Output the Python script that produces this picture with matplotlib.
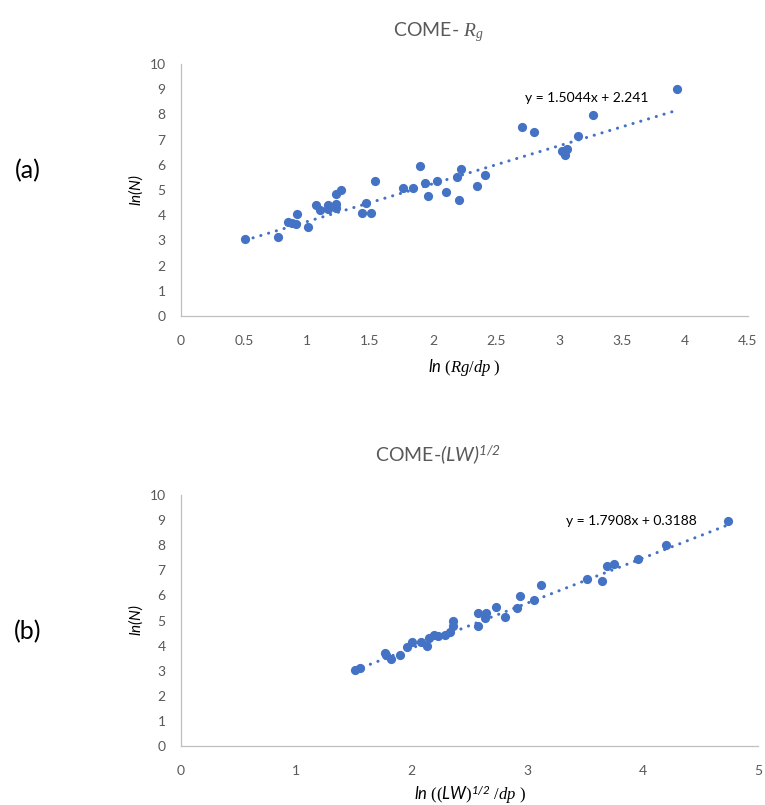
import matplotlib
matplotlib.use("Agg")
import matplotlib.pyplot as plt
import numpy as np

plt.rcParams['font.family'] = ['Lato', 'DejaVu Sans']
plt.rcParams['mathtext.fontset'] = 'custom'
plt.rcParams['mathtext.rm'] = 'Liberation Serif'
plt.rcParams['mathtext.it'] = 'Liberation Serif:italic'
plt.rcParams['mathtext.sf'] = 'Lato:italic'

# panel (a): ln(Rg/dp) vs ln(N)
rg_x = [0.51, 0.77, 0.85, 0.88, 0.91, 0.92, 1.01, 1.07, 1.10, 1.17, 1.17, 1.23, 1.23,
        1.27, 1.23, 1.44, 1.47, 1.51, 1.54, 1.76, 1.84, 1.90, 1.94, 1.96, 2.03, 2.10,
        2.19, 2.22, 2.21, 2.35, 2.41, 2.71, 2.80, 3.02, 3.05, 3.06, 3.04, 3.15, 3.27, 3.94]
rg_y = [3.07, 3.15, 3.73, 3.70, 3.66, 4.03, 3.52, 4.40, 4.19, 4.39, 4.26, 4.44, 4.85,
        5.01, 4.30, 4.10, 4.48, 4.10, 5.36, 5.06, 5.06, 5.95, 5.28, 4.77, 5.36, 4.93,
        5.52, 5.82, 4.62, 5.14, 5.59, 7.51, 7.30, 6.56, 6.40, 6.61, 6.50, 7.14, 7.96, 9.02]
rg_fit = (1.5044, 2.241)

# panel (b): ln((LW)^1/2/dp) vs ln(N)
lw_x = [1.51, 1.55, 1.77, 1.78, 1.82, 1.90, 1.96, 2.00, 2.08, 2.13, 2.15, 2.19, 2.23,
        2.29, 2.33, 2.36, 2.36, 2.57, 2.57, 2.63, 2.64, 2.73, 2.81, 2.91, 2.94, 3.06,
        3.12, 3.52, 3.65, 3.69, 3.75, 3.96, 4.20, 4.74]
lw_y = [3.03, 3.12, 3.72, 3.63, 3.45, 3.64, 3.94, 4.16, 4.16, 3.99, 4.32, 4.44, 4.39,
        4.43, 4.55, 4.77, 4.99, 5.29, 4.79, 5.09, 5.29, 5.53, 5.14, 5.51, 5.97, 5.81,
        6.41, 6.65, 6.56, 7.18, 7.24, 7.47, 7.99, 8.97]
lw_fit = (1.7908, 0.3188)

blue = '#4472C4'
grey = '#595959'
axis_grey = '#bfbfbf'

fig = plt.figure(figsize=(7.65, 8.05), dpi=100)
W, H = 765, 805


def make_ax(left, right, top, bottom):
    return fig.add_axes([left / W, 1 - bottom / H, (right - left) / W, (bottom - top) / H])


def style(ax, xmax, xticks, xticklabels):
    ax.set_xlim(0, xmax)
    ax.set_ylim(0, 10)
    ax.set_xticks(xticks)
    ax.set_xticklabels(xticklabels)
    ax.set_yticks(range(0, 11))
    for s in ['top', 'right']:
        ax.spines[s].set_visible(False)
    for s in ['left', 'bottom']:
        ax.spines[s].set_color(axis_grey)
        ax.spines[s].set_linewidth(0.9)
    ax.tick_params(length=0, colors=grey, labelsize=10, pad=14)
    ax.tick_params(axis='y', pad=11)


def draw(ax, xs, ys, fit, eq_pos):
    ax.scatter(xs, ys, s=44, color=blue, zorder=3, linewidths=0)
    xl = np.array([min(xs), max(xs)])
    ax.plot(xl, fit[0] * xl + fit[1], color=blue, lw=2.2,
            linestyle=(0, (0.05, 2.6)), dash_capstyle='round', zorder=2)
    ax.text(eq_pos[0], eq_pos[1], 'y = %sx + %s' % (fit[0], fit[1]),
            fontsize=10, color='black', ha='center', va='center')


ax1 = make_ax(181, 748, 64, 316)
style(ax1, 4.5, np.arange(0, 4.6, 0.5), ['0', '0.5', '1', '1.5', '2', '2.5', '3', '3.5', '4', '4.5'])
draw(ax1, rg_x, rg_y, rg_fit, (3.22, 8.66))
ax1.set_title(r'COME- $R_g$', color=grey, fontsize=14, pad=20, x=0.453)
ax1.set_ylabel(r'$\mathsf{ln(N)}$', color='black', fontsize=11, labelpad=3)
ax1.set_xlabel(r'$\mathsf{ln}\ (Rg/dp\ )$', color='black', fontsize=12, labelpad=7)

ax2 = make_ax(181, 758, 495, 746)
style(ax2, 5, range(0, 6), ['0', '1', '2', '3', '4', '5'])
draw(ax2, lw_x, lw_y, lw_fit, (3.90, 8.96))
ax2.set_title(r'COME-$\mathsf{(LW)}^{\mathsf{1/2}}$', color=grey, fontsize=14, pad=24, x=0.445)
ax2.set_ylabel(r'$\mathsf{ln(N)}$', color='black', fontsize=11, labelpad=3)
ax2.set_xlabel(r'$\mathsf{ln}\ ((\mathsf{LW})^{\mathsf{1/2}}\ /dp\ )$',
               color='black', fontsize=12, labelpad=4)

fig.text(28 / W, 1 - 171 / H, '(a)', fontsize=18, ha='center', va='center', color='black')
fig.text(28 / W, 1 - 632 / H, '(b)', fontsize=18, ha='center', va='center', color='black')

fig.savefig('out.png', dpi=100)
